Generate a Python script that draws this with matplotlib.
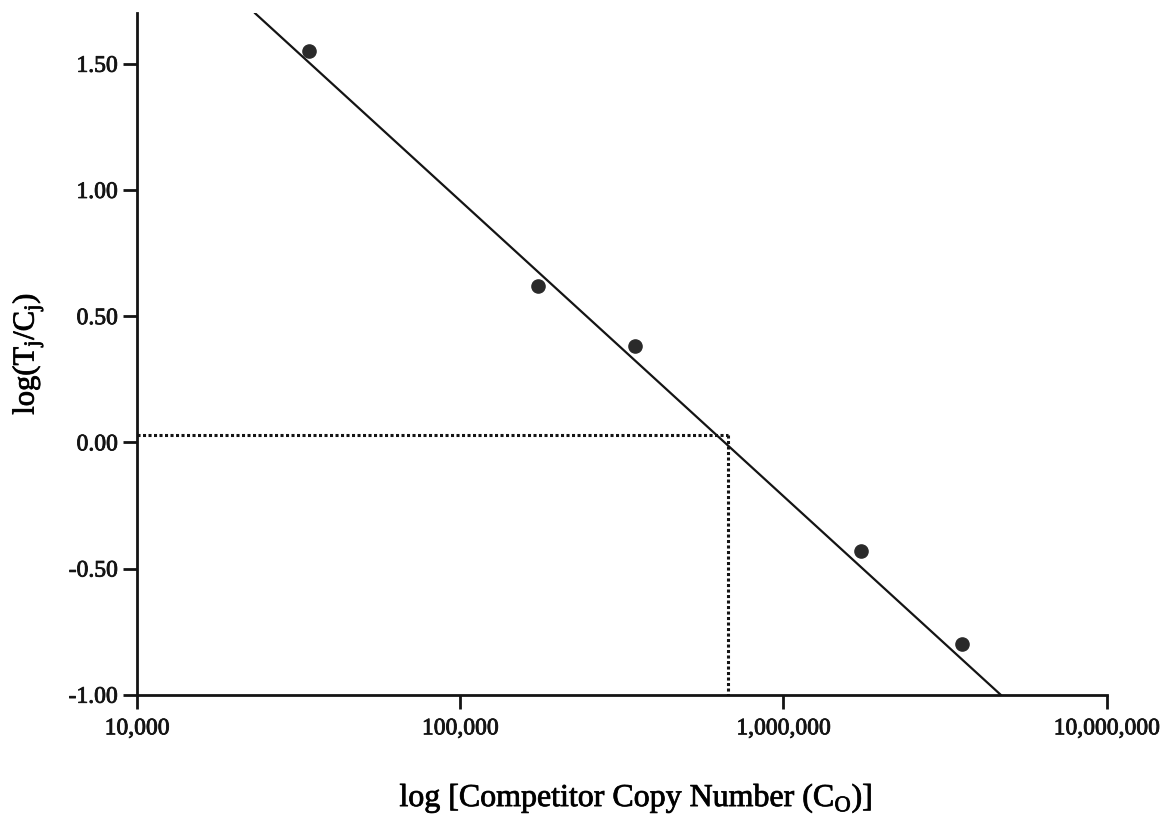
import matplotlib.pyplot as plt
import matplotlib.patheffects as pe
from matplotlib.ticker import FixedLocator, FuncFormatter

plt.rcParams['font.family'] = ['Liberation Serif', 'DejaVu Serif']
plt.rcParams['mathtext.fontset'] = 'custom'
plt.rcParams['mathtext.rm'] = 'Liberation Serif'

# Data
copy_number = [34000, 174000, 348000, 1740000, 3580000]
log_ratio = [1.55, 0.62, 0.38, -0.43, -0.80]

# fitted line end points
fit_x = [23200, 4700000]
fit_y = [1.70, -1.00]

# equivalence point (log ratio = 0)
equiv_x = 672000
equiv_y = 0.03

x_ticks = [10000, 100000, 1000000, 10000000]
y_ticks = [-1.00, -0.50, 0.00, 0.50, 1.00, 1.50]

ink = '#141414'
bold = [pe.withStroke(linewidth=0.6, foreground=ink)]

fig = plt.figure(figsize=(11.71, 8.31), dpi=100)
ax = fig.add_axes([0.117, 0.164, 0.828, 0.82])

ax.plot(fit_x, fit_y, color=ink, linewidth=1.6, zorder=2)
ax.plot(copy_number, log_ratio, 'o', color='#2a2a2a', markersize=9.5, zorder=3)

# dotted guide lines
ax.plot([x_ticks[0], equiv_x], [equiv_y, equiv_y], linestyle=(0, (1, 0.8)),
        color=ink, linewidth=2.2)
ax.plot([equiv_x, equiv_x], [equiv_y, y_ticks[0]], linestyle=(0, (1, 0.8)),
        color=ink, linewidth=2.2)

ax.set_xscale('log')
ax.set_xlim(10000, 10000000)
ax.set_ylim(-1.0, 1.70)

ax.xaxis.set_major_locator(FixedLocator(x_ticks))
ax.xaxis.set_minor_locator(FixedLocator([]))
ax.xaxis.set_major_formatter(FuncFormatter(lambda v, p: f"{int(round(v)):,}"))
ax.yaxis.set_major_locator(FixedLocator(y_ticks))
ax.yaxis.set_major_formatter(FuncFormatter(lambda v, p: f"{v:.2f}"))

for side in ['top', 'right']:
    ax.spines[side].set_visible(False)
for side in ['left', 'bottom']:
    ax.spines[side].set_linewidth(2.0)
    ax.spines[side].set_color(ink)

ax.tick_params(axis='both', direction='out', length=10, width=2.0,
               labelsize=17, colors=ink)
ax.tick_params(axis='x', pad=7)
ax.tick_params(axis='y', pad=4)
for lab in ax.get_xticklabels() + ax.get_yticklabels():
    lab.set_path_effects(bold)

ax.set_xlabel(r"log [Competitor Copy Number (C$_\mathrm{O}$)]", fontsize=23)
ax.xaxis.set_label_coords(0.515, -0.127)
ax.set_ylabel(r"log(T$_\mathrm{j}$/C$_\mathrm{j}$)", fontsize=22)
ax.yaxis.set_label_coords(-0.094, 0.50)
ax.xaxis.label.set_path_effects(bold)
ax.yaxis.label.set_path_effects(bold)

fig.savefig("out.png", dpi=100)
